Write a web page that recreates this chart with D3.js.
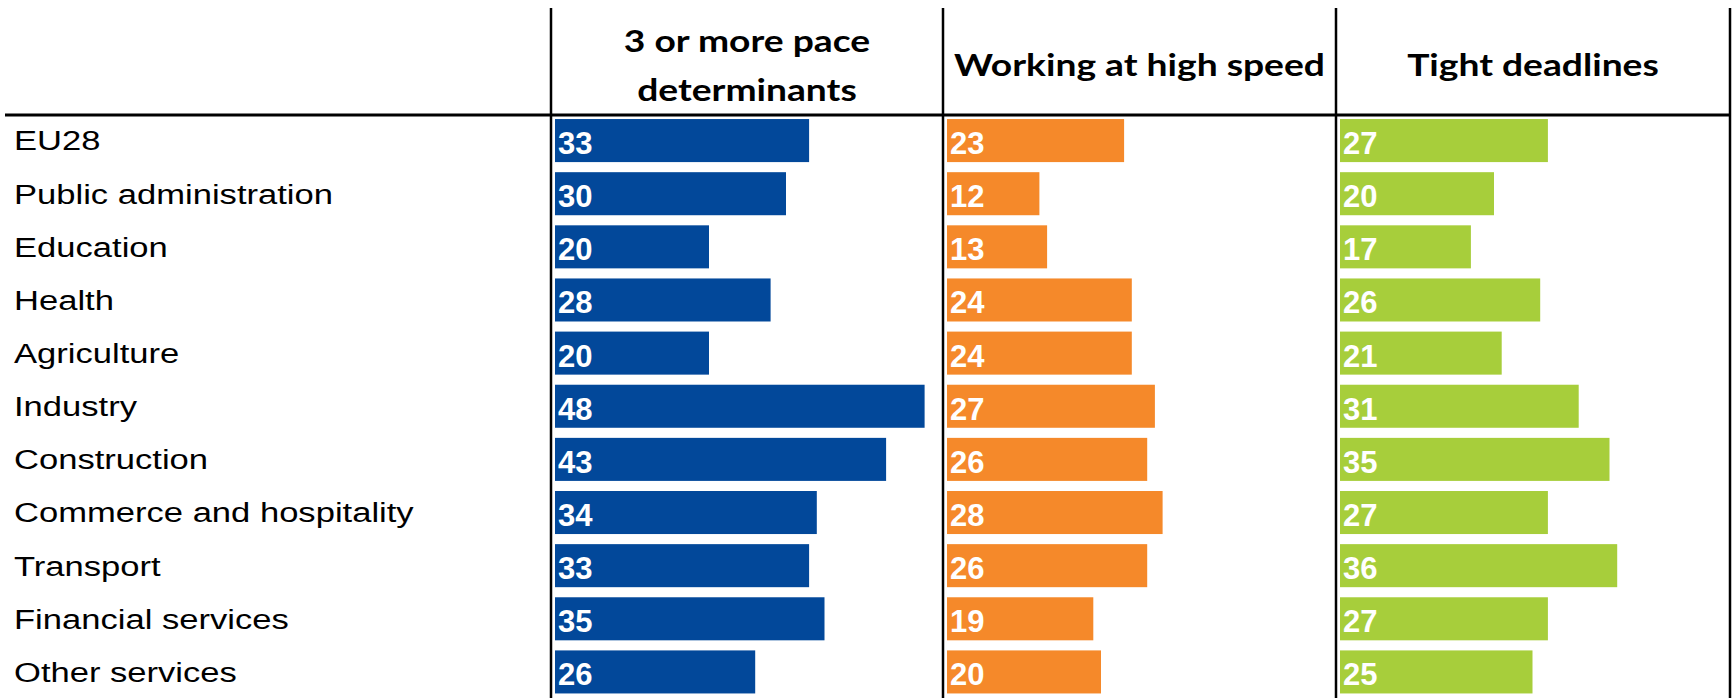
<!DOCTYPE html>
<html>
<head>
<meta charset="utf-8">
<script src="https://cdn.jsdelivr.net/npm/d3@7"></script>
<style>
  html, body { margin: 0; padding: 0; background: #ffffff; }
  svg { display: block; }
</style>
</head>
<body>
<svg id="chart" width="1736" height="698"></svg>
<script>
// Sectors shown as rows
const categories = [
  "EU28", "Public administration", "Education", "Health", "Agriculture",
  "Industry", "Construction", "Commerce and hospitality", "Transport",
  "Financial services", "Other services"
];

// Share of workers (%) per indicator
const paceValues     = [33, 30, 20, 28, 20, 48, 43, 34, 33, 35, 26];
const speedValues    = [23, 12, 13, 24, 24, 27, 26, 28, 26, 19, 20];
const deadlineValues = [27, 20, 17, 26, 21, 31, 35, 27, 36, 27, 25];

// Column headings (one entry per line)
const seriesTitles = [
  ["3 or more pace", "determinants"],
  ["Working at high speed"],
  ["Tight deadlines"]
];

const palette = ["#02489a", "#f5892a", "#a7ce3b"];

const series = [paceValues, speedValues, deadlineValues];

const svg = d3.select("#chart");

// Panel layout: vertical rule positions
const panelLines = [551, 943, 1336, 1730];
const headerRuleY = 115;

const y = d3.scaleBand()
  .domain(categories)
  .range([114, 698.5])
  .paddingInner(0.19)
  .paddingOuter(0.095);

const x = d3.scaleLinear().domain([0, 50]).range([0, 385]);

// Row labels (wide Arial-like face)
const labelScale = 1.235;
svg.append("g")
  .attr("transform", `translate(14,0) scale(${labelScale},1)`)
  .selectAll("text")
  .data(categories)
  .join("text")
  .attr("x", 0)
  .attr("y", d => y(d) + y.bandwidth() / 2)
  .attr("dy", "0.355em")
  .attr("font-family", "'Liberation Sans', Arial, sans-serif")
  .attr("font-size", 28)
  .attr("fill", "#000")
  .text(d => d);

// Bars and value labels for each indicator
const headScale = 1.2;
series.forEach((values, i) => {
  const x0 = panelLines[i] + 4;
  const g = svg.append("g").attr("transform", `translate(${x0},0)`);
  const rows = categories.map((c, j) => ({ cat: c, value: values[j] }));

  g.selectAll("rect")
    .data(rows)
    .join("rect")
    .attr("x", 0)
    .attr("y", d => y(d.cat))
    .attr("width", d => x(d.value))
    .attr("height", y.bandwidth())
    .attr("fill", palette[i]);

  g.selectAll("text")
    .data(rows)
    .join("text")
    .attr("x", 3)
    .attr("y", d => y(d.cat) + 35)
    .attr("font-family", "'Liberation Sans', Arial, sans-serif")
    .attr("font-weight", "bold")
    .attr("font-size", 31)
    .attr("fill", "#ffffff")
    .text(d => d.value);

  // Heading
  const cx = (panelLines[i] + panelLines[i + 1]) / 2;
  const lines = seriesTitles[i];
  const baselines = lines.length === 2 ? [52, 101] : [76];
  svg.append("g")
    .attr("transform", `translate(${cx},0) scale(${headScale},1)`)
    .selectAll("text")
    .data(lines)
    .join("text")
    .attr("x", 0)
    .attr("y", (d, k) => baselines[k])
    .attr("text-anchor", "middle")
    .attr("font-family", "Lato, 'Open Sans', sans-serif")
    .attr("font-weight", "bold")
    .attr("font-size", 31)
    .attr("fill", "#000")
    .text(d => d);
});

// Grid rules
svg.append("line")
  .attr("x1", 5).attr("x2", 1731)
  .attr("y1", headerRuleY).attr("y2", headerRuleY)
  .attr("stroke", "#000").attr("stroke-width", 3);

svg.selectAll("line.vrule")
  .data(panelLines)
  .join("line")
  .attr("class", "vrule")
  .attr("x1", d => d).attr("x2", d => d)
  .attr("y1", 8).attr("y2", 698)
  .attr("stroke", "#000").attr("stroke-width", 2.5);
</script>
</body>
</html>
